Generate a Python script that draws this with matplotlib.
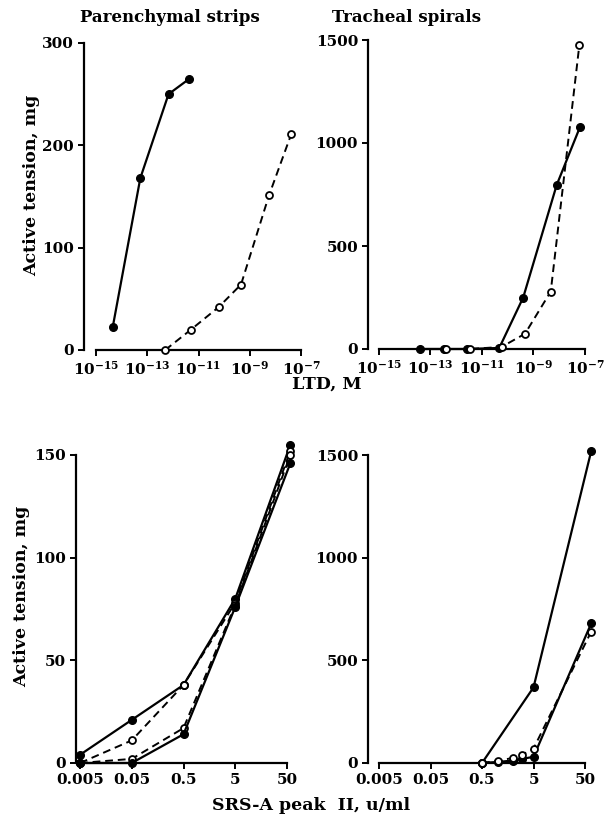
import numpy as np
import matplotlib
matplotlib.use("Agg")
import matplotlib.pyplot as plt
from matplotlib.ticker import FixedLocator, NullLocator

plt.rcParams['font.family'] = 'DejaVu Serif'
plt.rcParams['font.weight'] = 'bold'
plt.rcParams['mathtext.fontset'] = 'dejavuserif'

# LTD panels (x given as log10 of molar concentration)
par_solid_logx = [-14.35, -13.27, -12.17, -11.36]
par_solid_y = [22, 168, 250, 265]
par_open_logx = [-12.30, -11.29, -10.21, -9.34, -8.25, -7.38]
par_open_y = [0, 20, 42, 64, 151, 211]

tra_solid_logx = [-13.39, -12.47, -11.58, -10.33, -9.40, -8.10, -7.19]
tra_solid_y = [0, 0, 0, 5, 250, 796, 1079]
tra_open_logx = [-12.40, -11.47, -10.24, -9.33, -8.33, -7.22]
tra_open_y = [0, 0, 10, 74, 279, 1475]

ltd_ticks_exp = [-15, -13, -11, -9, -7]

# SRS-A panels
srs_doses = [0.005, 0.05, 0.5, 5, 58]
par_srs_solid_a = [4, 21, 38, 80, 155]
par_srs_dash_b = [0, 11, 38, 78, 152]
par_srs_dash_c = [0, 2, 17, 77, 150]
par_srs_solid_d = [0, 0, 14, 76, 146]

tra_srs_doses_e = [0.5, 5, 66]
tra_srs_solid_e = [0, 368, 1519]
tra_srs_doses_fg = [0.5, 1, 2, 3, 5, 66]
tra_srs_solid_f = [0, 5, 12, 20, 30, 680]
tra_srs_dash_g = [0, 10, 25, 40, 70, 640]

srs_ticks = [0.005, 0.05, 0.5, 5, 50]
srs_labels = ['0.005', '0.05', '0.5', '5', '50']

W, H = 605, 818
fig = plt.figure(figsize=(W / 100, H / 100), dpi=100)


def make_axes(l, r, b, t, offset):
    ax = fig.add_axes([l / W, 1 - b / H, (r - l) / W, (b - t) / H])
    for s in ('top', 'right'):
        ax.spines[s].set_visible(False)
    ax.spines['left'].set_position(('outward', offset))
    for s in ('left', 'bottom'):
        ax.spines[s].set_linewidth(1.6)
    ax.tick_params(direction='out', length=4, width=1.4, labelsize=11, pad=3)
    return ax


solid = dict(color='black', lw=1.6, marker='o', ms=5.5, mfc='black', mec='black', clip_on=False, zorder=3)
dashed = dict(color='black', lw=1.4, ls=(0, (4, 2.5)), marker='o', ms=5, mfc='white', mec='black',
              mew=1.3, clip_on=False, zorder=3)

# Top-left
ax1 = make_axes(96, 301, 350, 43, 9)
ax1.plot(10.0 ** np.array(par_solid_logx), par_solid_y, **solid)
ax1.plot(10.0 ** np.array(par_open_logx), par_open_y, **dashed)
ax1.set_ylim(0, 300)
ax1.set_yticks([0, 100, 200, 300])

# Top-right
ax2 = make_axes(379, 585, 349, 40, 8)
ax2.plot(10.0 ** np.array(tra_solid_logx), tra_solid_y, **solid)
ax2.plot(10.0 ** np.array(tra_open_logx), tra_open_y, **dashed)
ax2.set_ylim(0, 1500)
ax2.set_yticks([0, 500, 1000, 1500])

for ax in (ax1, ax2):
    ax.set_xscale('log')
    ax.set_xlim(1e-15, 1e-7)
    ax.xaxis.set_major_locator(FixedLocator([10.0 ** e for e in ltd_ticks_exp]))
    ax.xaxis.set_minor_locator(NullLocator())
    ax.set_xticklabels([r'$\mathbf{10^{%d}}$' % e for e in ltd_ticks_exp])

# Bottom-left
ax3 = make_axes(80, 287, 763, 455, 3)
ax3.plot(srs_doses, par_srs_solid_a, **solid)
ax3.plot(srs_doses, par_srs_dash_b, **dashed)
ax3.plot(srs_doses, par_srs_dash_c, **dashed)
ax3.plot(srs_doses, par_srs_solid_d, **solid)
ax3.set_ylim(0, 150)
ax3.set_yticks([0, 50, 100, 150])

# Bottom-right
ax4 = make_axes(379, 585, 763, 455, 8)
ax4.plot(tra_srs_doses_e, tra_srs_solid_e, **solid)
ax4.plot(tra_srs_doses_fg, tra_srs_solid_f, **solid)
ax4.plot(tra_srs_doses_fg, tra_srs_dash_g, **dashed)
ax4.set_ylim(0, 1500)
ax4.set_yticks([0, 500, 1000, 1500])

for ax in (ax3, ax4):
    ax.set_xscale('log')
    ax.set_xlim(0.005, 50)
    ax.xaxis.set_major_locator(FixedLocator(srs_ticks))
    ax.xaxis.set_minor_locator(NullLocator())
    ax.set_xticklabels(srs_labels)

for ax in (ax1, ax2, ax3, ax4):
    for lab in ax.get_yticklabels() + ax.get_xticklabels():
        lab.set_fontweight('bold')

fig.text(170 / W, 1 - 18 / H, 'Parenchymal strips', ha='center', va='center', fontsize=12, fontweight='bold')
fig.text(407 / W, 1 - 18 / H, 'Tracheal spirals', ha='center', va='center', fontsize=12, fontweight='bold')
fig.text(327 / W, 1 - 384 / H, 'LTD, M', ha='center', va='center', fontsize=12.5, fontweight='bold')
fig.text(311 / W, 1 - 806 / H, 'SRS-A peak  II, u/ml', ha='center', va='center', fontsize=12.5, fontweight='bold')
fig.text(32 / W, 1 - 185 / H, 'Active tension, mg', ha='center', va='center', rotation=90,
         fontsize=12.5, fontweight='bold')
fig.text(22 / W, 1 - 596 / H, 'Active tension, mg', ha='center', va='center', rotation=90,
         fontsize=12.5, fontweight='bold')

fig.savefig('out.png', dpi=100)
